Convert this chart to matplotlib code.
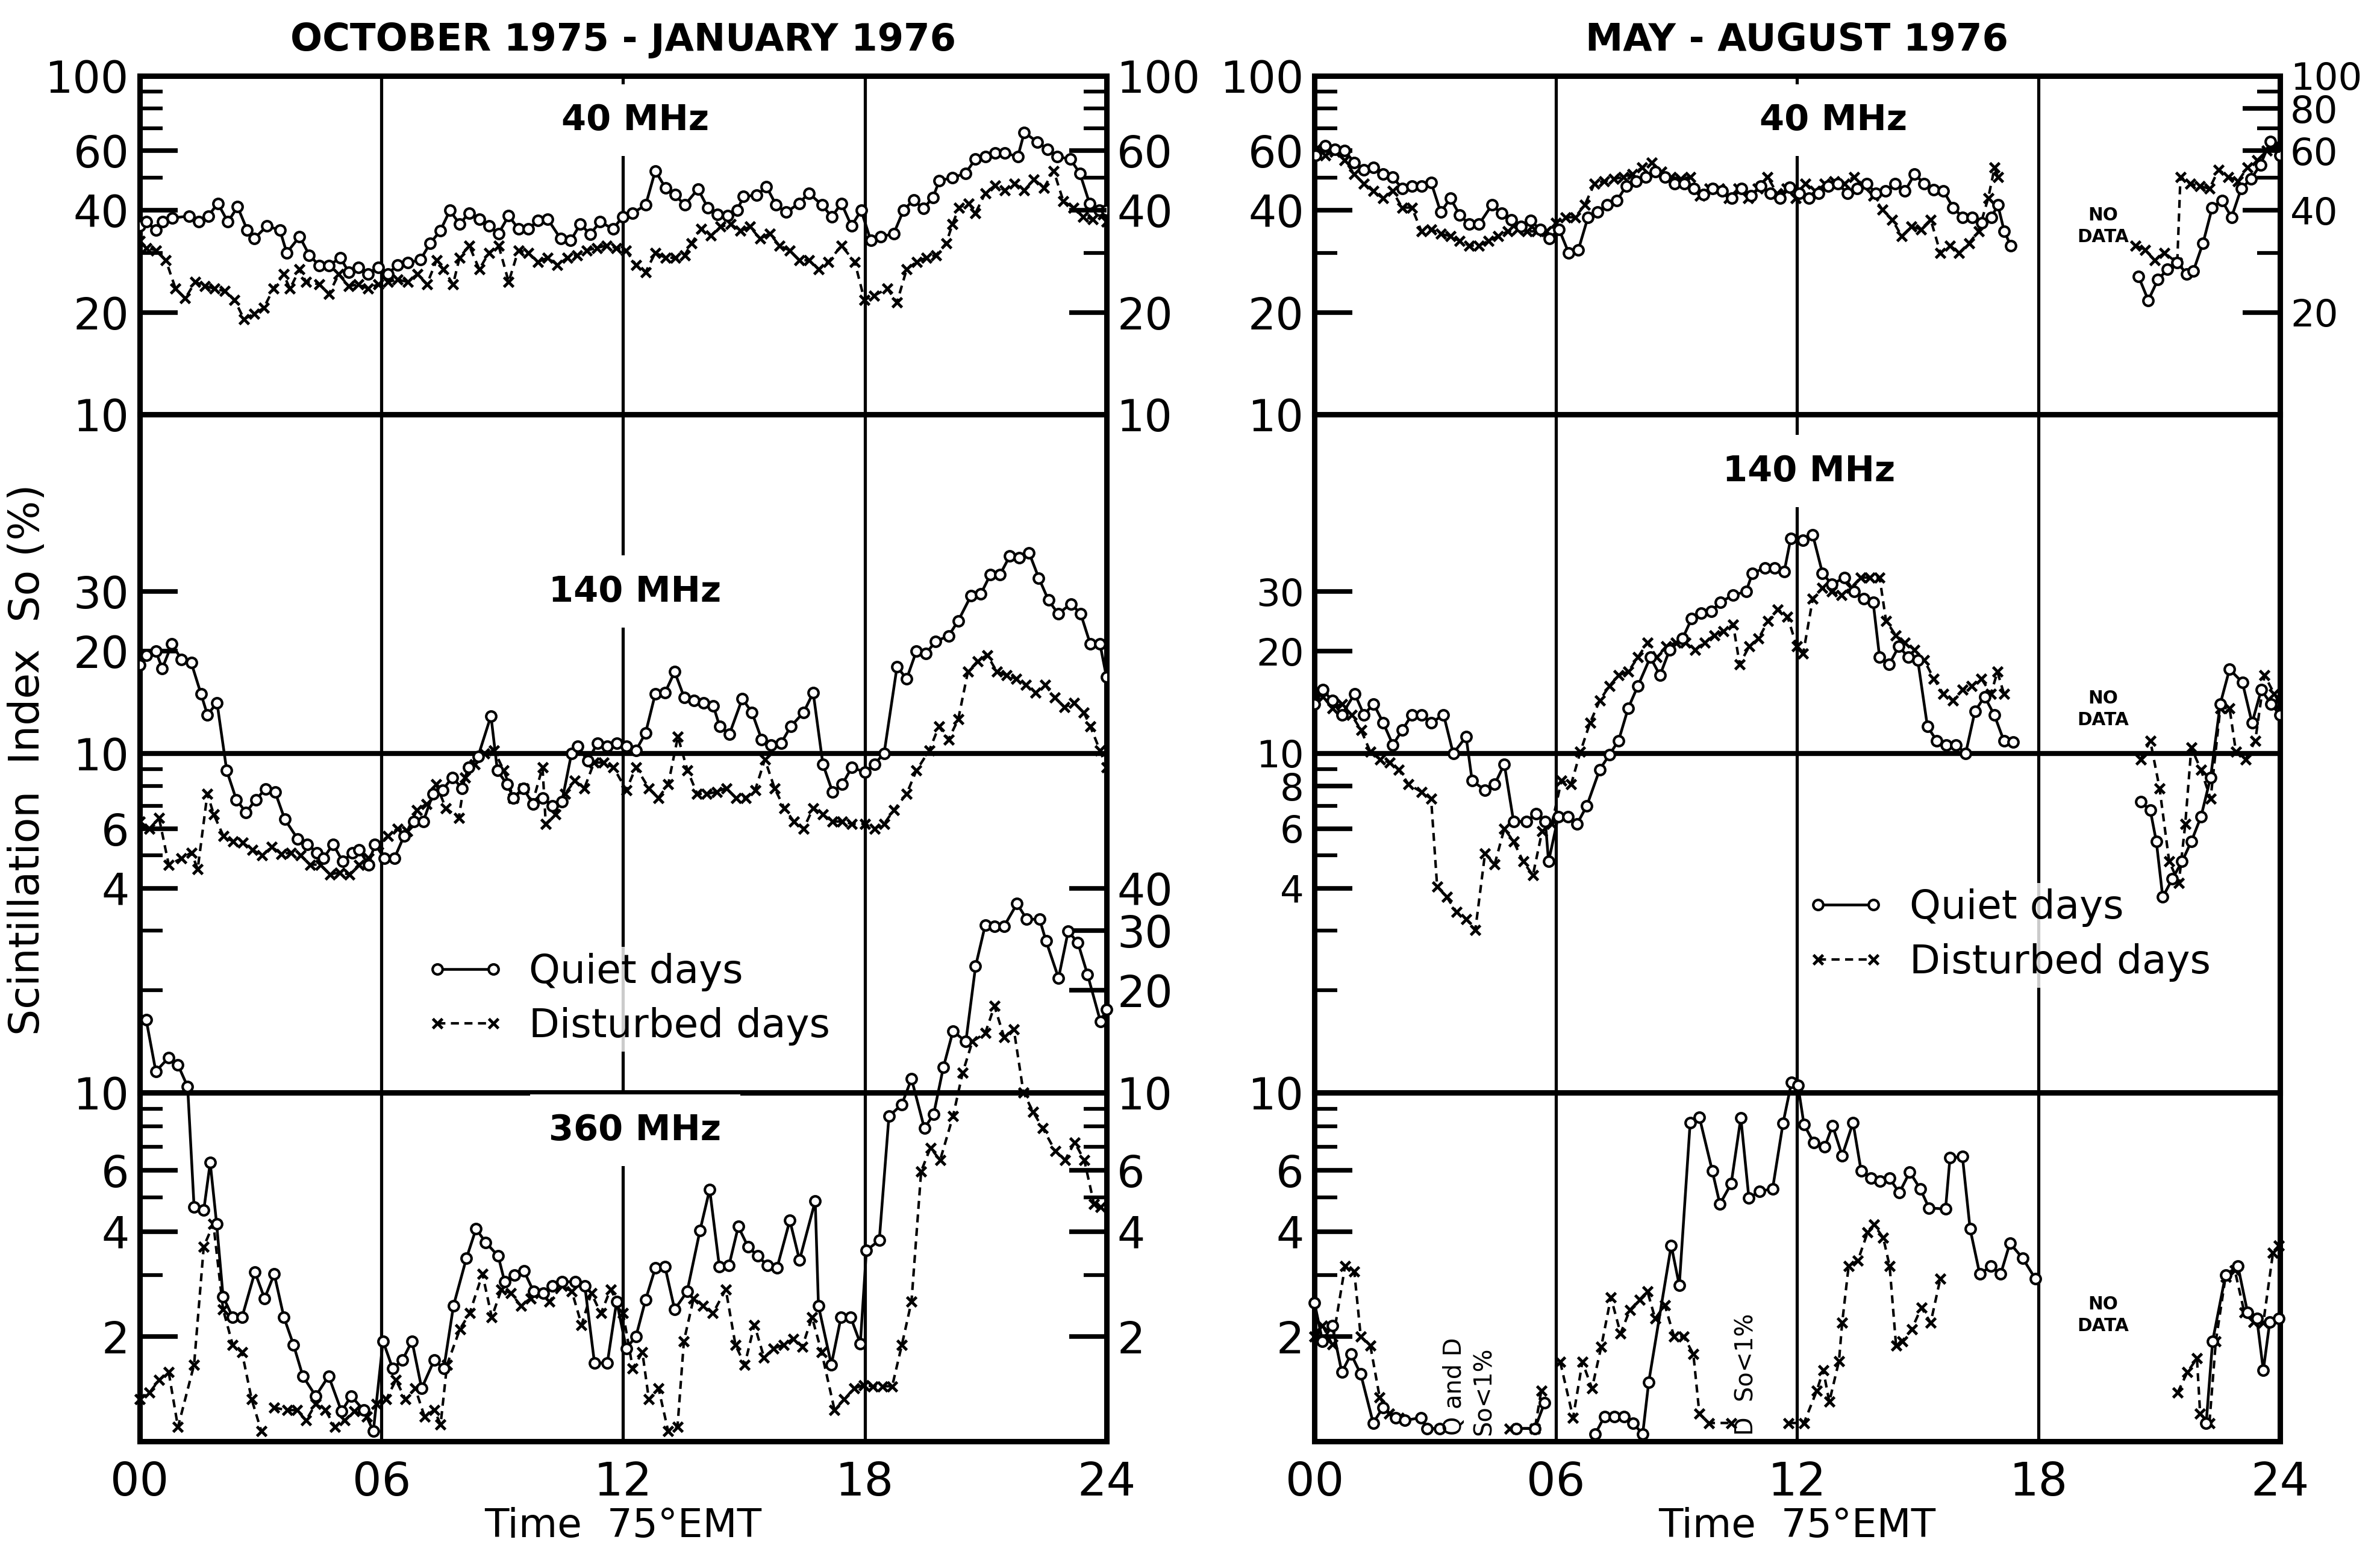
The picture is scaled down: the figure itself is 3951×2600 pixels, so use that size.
import numpy as np
import matplotlib
matplotlib.use("Agg")
import matplotlib.pyplot as plt
from matplotlib.lines import Line2D
from matplotlib.ticker import FixedLocator, NullFormatter, NullLocator

plt.rcParams['font.family'] = ['DejaVu Sans']

nan = np.nan
GAP = (nan, nan)

# ---- October 1975 - January 1976 : (hour, So %) ----
oct_40_quiet = [
    (0.0, 36), (0.16, 37), (0.41, 35), (0.57, 37), (0.81, 38), (1.22, 38.5), (1.46, 37), (1.70, 38.5),
    (1.94, 42), (2.19, 37), (2.43, 41), (2.67, 35), (2.84, 33), (3.16, 36), (3.48, 35), (3.65, 30),
    (3.97, 33.5), (4.21, 29.5), (4.46, 27.5), (4.70, 27.5), (4.98, 29), (5.19, 26.3), (5.43, 27.2),
    (5.67, 26), (5.92, 27.2), (6.16, 26), (6.40, 27.6), (6.65, 28), (6.97, 28.6), (7.21, 32),
    (7.46, 34.8), (7.70, 40), (7.94, 36.5), (8.18, 39.3), (8.43, 37.7), (8.67, 36), (8.91, 34.2),
    (9.16, 38.6), (9.40, 35.3), (9.64, 35.3), (9.89, 37.3), (10.13, 37.7), (10.45, 33), (10.70, 32.6),
    (10.94, 36.5), (11.18, 34), (11.43, 37), (11.75, 35.3), (11.99, 38.3), (12.24, 39.3), (12.56, 41.5),
    (12.80, 52.4), (13.05, 46.7), (13.29, 44.5), (13.53, 41.5), (13.86, 46.3), (14.10, 40.8),
    (14.34, 39), (14.59, 38.6), (14.83, 40), (14.99, 44), (15.32, 44.4), (15.56, 47), (15.80, 41.5),
    (16.05, 39.5), (16.37, 42), (16.61, 45), (16.94, 41.5), (17.18, 38.3), (17.42, 42), (17.67, 36),
    (17.91, 40), (18.15, 32.6), (18.40, 33.4), (18.72, 34.2), (18.96, 40), (19.21, 43), (19.45, 40.5),
    (19.69, 43.6), (19.85, 49), (20.18, 50), (20.50, 51.5), (20.75, 56.8), (20.99, 57.7), (21.23, 59.2),
    (21.47, 59.2), (21.80, 57.7), (21.96, 68), (22.29, 63.7), (22.53, 60.7), (22.77, 57.7),
    (23.10, 56.8), (23.34, 51.5), (23.58, 42), (23.82, 40), (24.0, 40),
]
oct_40_dist = [
    (0.0, 32.5), (0.16, 31), (0.41, 30.5), (0.65, 28.5), (0.89, 23.5), (1.13, 22), (1.38, 24.6),
    (1.62, 23.9), (1.86, 23.5), (2.11, 23.1), (2.35, 21.8), (2.59, 19.1), (2.84, 19.8), (3.08, 20.6),
    (3.32, 23.5), (3.57, 25.9), (3.73, 23.5), (3.97, 26.8), (4.13, 24.6), (4.46, 24.2), (4.70, 22.7),
    (4.94, 25.9), (5.19, 23.9), (5.43, 24.2), (5.67, 23.5), (5.92, 24.2), (6.16, 24.6), (6.40, 25),
    (6.65, 24.6), (6.89, 25.9), (7.13, 24.2), (7.37, 28.5), (7.54, 26.8), (7.78, 24.2), (7.94, 29),
    (8.18, 31.5), (8.43, 26.8), (8.67, 30), (8.91, 31.5), (9.16, 24.6), (9.40, 30.5), (9.64, 30),
    (9.89, 28.2), (10.13, 29), (10.37, 27.6), (10.62, 29), (10.86, 29.5), (11.10, 30.5), (11.35, 31),
    (11.59, 31.5), (11.83, 31), (12.07, 30.5), (12.32, 27.6), (12.56, 26.3), (12.80, 30), (13.05, 29),
    (13.29, 29), (13.53, 29.5), (13.70, 32), (13.94, 35.3), (14.18, 33.7), (14.42, 35.8), (14.67, 36.5),
    (14.91, 34.8), (15.15, 35.8), (15.40, 33), (15.64, 34.2), (15.88, 31.5), (16.13, 30.5),
    (16.37, 28.5), (16.61, 28.5), (16.86, 26.8), (17.10, 28.2), (17.42, 31.5), (17.75, 28.2),
    (17.99, 21.8), (18.23, 22.4), (18.56, 23.5), (18.80, 21.4), (19.04, 26.8), (19.29, 28.2),
    (19.53, 29), (19.77, 29.5), (20.02, 32), (20.18, 36.5), (20.34, 40.8), (20.58, 42), (20.75, 39.3),
    (20.99, 45), (21.23, 47.4), (21.47, 45.9), (21.72, 48), (21.96, 45.9), (22.20, 49.4), (22.45, 46.7),
    (22.69, 52.4), (22.93, 42.6), (23.18, 40.8), (23.42, 38.3), (23.66, 37.7), (23.91, 39), (24.0, 37),
]
oct_140_quiet = [
    (0.0, 18.2), (0.16, 19.5), (0.40, 20), (0.56, 17.8), (0.80, 21), (1.04, 18.9), (1.28, 18.5),
    (1.52, 15), (1.68, 13), (1.92, 14.1), (2.16, 8.9), (2.40, 7.3), (2.64, 6.7), (2.88, 7.3),
    (3.12, 7.85), (3.36, 7.7), (3.60, 6.4), (3.92, 5.6), (4.16, 5.4), (4.40, 5.1), (4.56, 4.9),
    (4.80, 5.4), (5.04, 4.8), (5.28, 5.1), (5.44, 5.2), (5.68, 4.7), (5.84, 5.4), (6.08, 4.9),
    (6.32, 4.9), (6.56, 5.7), (6.80, 6.3), (7.04, 6.3), (7.28, 7.6), (7.52, 7.8), (7.76, 8.5),
    (8.00, 7.9), (8.16, 9.1), (8.40, 9.8), (8.72, 12.9), (8.88, 8.9), (9.12, 8.1), (9.28, 7.4),
    (9.52, 7.9), (9.76, 7.1), (10.00, 7.4), (10.24, 7.0), (10.48, 7.2), (10.72, 10), (10.88, 10.5),
    (11.12, 9.5), (11.36, 10.7), (11.60, 10.5), (11.84, 10.7), (12.08, 10.5), (12.32, 10.2),
    (12.56, 11.5), (12.80, 15), (13.04, 15.1), (13.28, 17.4), (13.52, 14.6), (13.76, 14.3),
    (14.00, 14.1), (14.24, 13.8), (14.40, 12), (14.64, 11.4), (14.96, 14.5), (15.20, 13.2),
    (15.44, 11), (15.68, 10.6), (15.92, 10.7), (16.16, 12), (16.48, 13.2), (16.72, 15.1),
    (16.96, 9.3), (17.20, 7.7), (17.44, 8.1), (17.68, 9.1), (18.00, 8.8), (18.24, 9.3), (18.48, 10),
    (18.80, 18), (19.04, 16.6), (19.28, 20), (19.52, 19.7), (19.76, 21.4), (20.08, 22.2),
    (20.32, 24.6), (20.64, 29.2), (20.88, 29.5), (21.12, 33.7), (21.36, 33.7), (21.60, 38.2),
    (21.84, 37.8), (22.08, 39), (22.32, 32.9), (22.56, 28.3), (22.80, 25.8), (23.12, 27.6),
    (23.36, 25.8), (23.60, 21), (23.84, 21), (24.0, 16.8),
]
oct_140_dist = [
    (0.0, 6.3), (0.24, 6.0), (0.48, 6.45), (0.72, 4.7), (1.04, 4.9), (1.28, 5.1), (1.44, 4.56),
    (1.68, 7.6), (1.84, 6.6), (2.08, 5.7), (2.32, 5.5), (2.56, 5.45), (2.80, 5.2), (3.04, 5.0),
    (3.28, 5.3), (3.52, 5.05), (3.76, 5.1), (4.00, 5.0), (4.24, 4.7), (4.48, 4.7), (4.72, 4.4),
    (4.96, 4.45), (5.20, 4.4), (5.44, 4.7), (5.68, 4.9), (5.92, 5.4), (6.16, 5.7), (6.40, 6.0),
    (6.64, 5.9), (6.88, 6.8), (7.12, 7.1), (7.36, 8.1), (7.60, 6.9), (7.92, 6.45), (8.08, 8.5),
    (8.32, 9.3), (8.56, 10), (8.80, 10.2), (9.04, 8.9), (9.28, 7.4), (9.52, 7.9), (9.76, 7.2),
    (10.00, 9.1), (10.08, 6.2), (10.32, 6.6), (10.56, 7.6), (10.80, 8.3), (11.04, 7.9), (11.28, 9.4),
    (11.52, 9.4), (11.76, 9.1), (12.08, 7.8), (12.32, 9.1), (12.64, 7.9), (12.88, 7.4), (13.12, 8.1),
    (13.36, 11.2), (13.60, 8.9), (13.84, 7.6), (14.08, 7.6), (14.32, 7.7), (14.56, 7.9), (14.80, 7.4),
    (15.04, 7.4), (15.28, 7.8), (15.52, 9.6), (15.76, 7.9), (16.00, 6.9), (16.24, 6.3), (16.48, 6.0),
    (16.72, 6.9), (16.96, 6.6), (17.20, 6.3), (17.44, 6.3), (17.68, 6.2), (18.00, 6.2), (18.24, 6.0),
    (18.48, 6.2), (18.72, 6.8), (19.04, 7.6), (19.28, 8.9), (19.60, 10.2), (19.84, 12), (20.08, 11),
    (20.32, 12.6), (20.56, 17.4), (20.80, 18.7), (21.04, 19.5), (21.28, 17.4), (21.52, 17),
    (21.76, 16.6), (22.00, 15.9), (22.24, 15.1), (22.48, 15.9), (22.72, 14.6), (22.96, 13.7),
    (23.20, 14.1), (23.44, 13.2), (23.60, 12), (23.84, 10.2), (24.0, 9.1),
]
oct_360_quiet = [
    (0.16, 16.2), (0.40, 11.5), (0.72, 12.6), (0.95, 12.0), (1.19, 10.4), (1.35, 4.7), (1.59, 4.6),
    (1.75, 6.3), (1.91, 4.2), (2.07, 2.6), (2.31, 2.27), (2.54, 2.27), (2.86, 3.06), (3.10, 2.57),
    (3.34, 3.02), (3.58, 2.27), (3.82, 1.89), (4.05, 1.54), (4.37, 1.35), (4.69, 1.54), (5.01, 1.22),
    (5.25, 1.35), (5.56, 1.23), (5.80, 1.07), (6.04, 1.94), (6.28, 1.62), (6.52, 1.71), (6.76, 1.94),
    (7.00, 1.42), (7.31, 1.71), (7.55, 1.62), (7.79, 2.45), (8.11, 3.35), (8.35, 4.07), (8.59, 3.72),
    (8.90, 3.4), (9.06, 2.87), (9.30, 3.0), (9.54, 3.08), (9.78, 2.69), (10.02, 2.66), (10.25, 2.79),
    (10.49, 2.87), (10.81, 2.87), (11.05, 2.79), (11.29, 1.68), (11.61, 1.68), (11.84, 2.52),
    (12.08, 1.85), (12.32, 2.0), (12.56, 2.55), (12.80, 3.14), (13.04, 3.17), (13.28, 2.39),
    (13.59, 2.69), (13.91, 4.03), (14.15, 5.28), (14.39, 3.17), (14.63, 3.2), (14.86, 4.13),
    (15.10, 3.62), (15.34, 3.4), (15.58, 3.2), (15.82, 3.14), (16.14, 4.3), (16.38, 3.31),
    (16.77, 4.89), (16.85, 2.45), (17.17, 1.66), (17.41, 2.27), (17.65, 2.27), (17.89, 1.91),
    (18.04, 3.53), (18.36, 3.77), (18.60, 8.55), (18.92, 9.25), (19.16, 10.95), (19.48, 7.9),
    (19.71, 8.67), (19.95, 11.8), (20.19, 15), (20.51, 14), (20.75, 23), (20.99, 30.2), (21.22, 30),
    (21.46, 30), (21.78, 34.8), (22.02, 31.4), (22.34, 31.4), (22.50, 27.2), (22.81, 21.3),
    (23.05, 29), (23.29, 26.9), (23.53, 21.8), (23.85, 16), (24.0, 17.3),
]
oct_360_dist = [
    (0.0, 1.32), (0.24, 1.38), (0.48, 1.5), (0.72, 1.58), (0.95, 1.1), (1.35, 1.66), (1.59, 3.62),
    (1.83, 4.2), (2.07, 2.39), (2.31, 1.89), (2.54, 1.8), (2.78, 1.32), (3.02, 1.07), GAP,
    (3.34, 1.25), (3.66, 1.23), (3.90, 1.23), (4.13, 1.15), (4.37, 1.28), (4.61, 1.23), (4.85, 1.1),
    (5.09, 1.15), (5.33, 1.22), (5.64, 1.18), (5.88, 1.28), (6.12, 1.32), (6.36, 1.5), (6.60, 1.32),
    (6.84, 1.42), (7.07, 1.18), (7.31, 1.23), (7.47, 1.12), (7.63, 1.66), (7.95, 2.1), (8.19, 2.33),
    (8.51, 3.02), (8.74, 2.27), (8.98, 2.73), (9.22, 2.66), (9.46, 2.45), (9.70, 2.57), (9.94, 2.66),
    (10.17, 2.52), (10.49, 2.79), (10.73, 2.69), (10.97, 2.16), (11.21, 2.66), (11.45, 2.33),
    (11.69, 2.73), (12.00, 2.33), (12.24, 1.62), (12.48, 1.8), (12.64, 1.32), (12.88, 1.42),
    (13.12, 1.07), (13.35, 1.1), (13.51, 1.94), (13.75, 2.57), (13.99, 2.45), (14.23, 2.33),
    (14.55, 2.73), (14.79, 1.89), (15.02, 1.66), (15.26, 2.16), (15.50, 1.74), (15.74, 1.85),
    (15.98, 1.89), (16.22, 1.97), (16.45, 1.87), (16.69, 2.27), (16.93, 1.8), (17.25, 1.23),
    (17.49, 1.32), (17.73, 1.42), (17.97, 1.45), (18.20, 1.44), (18.44, 1.44), (18.68, 1.44),
    (18.92, 1.89), (19.16, 2.52), (19.40, 5.95), (19.63, 6.95), (19.87, 6.4), (20.19, 8.55),
    (20.43, 11.4), (20.67, 14), (20.99, 14.8), (21.22, 17.7), (21.46, 14.4), (21.70, 15.2),
    (21.94, 10), (22.18, 8.8), (22.42, 7.9), (22.73, 6.8), (22.97, 6.4), (23.21, 7.2), (23.45, 6.4),
    (23.69, 4.8), (23.85, 4.7),
]

# ---- May - August 1976 : (hour, So %) ----
may_40_quiet = [
    (0.03, 58.2), (0.27, 62), (0.51, 60.6), (0.75, 60), (0.99, 55.5), (1.23, 52.8), (1.46, 53.6),
    (1.70, 51.2), (1.94, 50.3), (2.18, 46.4), (2.42, 47.2), (2.66, 47.2), (2.90, 48.4), (3.14, 39.5),
    (3.38, 43.5), (3.61, 38.8), (3.85, 36.4), (4.09, 36.4), (4.41, 41.5), (4.65, 39.2), (4.89, 37.6),
    (5.13, 35.8), (5.37, 37.3), (5.61, 35.2), (5.84, 33), (6.08, 35.2), (6.32, 30), (6.56, 30.6),
    (6.80, 38.2), (7.04, 39.5), (7.28, 41.5), (7.52, 42.8), (7.75, 47.2), (7.99, 48.8), (8.23, 50.3),
    (8.47, 52), (8.71, 50.3), (8.95, 48), (9.19, 48), (9.43, 46.4), (9.67, 44.6), (9.90, 46.4),
    (10.14, 45.6), (10.38, 43.5), (10.62, 46.4), (10.86, 44.2), (11.10, 47.2), (11.34, 45),
    (11.58, 43.5), (11.82, 46.8), (12.05, 45), (12.29, 43.5), (12.53, 45), (12.77, 47.2), (13.01, 48),
    (13.25, 45), (13.49, 46.4), (13.73, 48), (13.96, 45), (14.20, 45.6), (14.44, 48), (14.68, 45.6),
    (14.92, 51.2), (15.16, 48), (15.40, 46), (15.64, 45.6), (15.88, 40.8), (16.11, 38.2),
    (16.35, 38.2), (16.59, 36.8), (16.83, 38.2), (16.99, 41.5), (17.15, 34.7), (17.31, 31.5), GAP,
    (20.49, 25.5), (20.73, 21.7), (20.97, 25), (21.21, 26.8), (21.45, 28), (21.69, 26), (21.85, 26.5),
    (22.09, 32), (22.32, 40.8), (22.56, 42.8), (22.80, 38.2), (23.04, 46.4), (23.28, 49.5),
    (23.52, 54.6), (23.76, 64), (24.0, 58.2),
]
may_40_dist = [
    (0.03, 60.6), (0.27, 58.2), (0.51, 59.7), (0.75, 56.3), (0.99, 51.2), (1.23, 48), (1.46, 45.6),
    (1.70, 43.5), (1.94, 45.6), (2.18, 40.8), (2.42, 40.8), (2.66, 34.7), (2.90, 35.2), (3.14, 34.1),
    (3.38, 33.6), (3.61, 32.5), (3.85, 31.5), (4.09, 31.5), (4.33, 32.5), (4.57, 33.6), (4.81, 34.7),
    (5.05, 35.2), (5.29, 34.7), (5.53, 34.7), (5.76, 34.7), (6.00, 36.8), (6.24, 38.2), (6.48, 38.2),
    (6.72, 41.5), (6.96, 48), (7.20, 48.8), (7.44, 49.5), (7.68, 50.3), (7.91, 51.2), (8.15, 53.6),
    (8.39, 55.5), (8.63, 52), (8.87, 50.3), (9.11, 49.5), (9.35, 50.3), (9.59, 44.2), (9.82, 46.4),
    (10.06, 46.4), (10.30, 43.5), (10.54, 46.4), (10.78, 43.5), (11.02, 46.4), (11.26, 50.3),
    (11.50, 45), (11.74, 46.4), (11.97, 43.5), (12.21, 48), (12.45, 45.6), (12.69, 48), (12.93, 48.8),
    (13.17, 48), (13.41, 50.3), (13.65, 47.2), (13.89, 44.2), (14.12, 40.2), (14.36, 37.6),
    (14.60, 33.6), (14.84, 35.8), (15.08, 35.2), (15.32, 37.6), (15.56, 30), (15.80, 31.5),
    (16.03, 30), (16.27, 32), (16.51, 34.7), (16.75, 43.5), (16.91, 53.6), (16.99, 50.3), GAP,
    (20.41, 31.5), (20.65, 30.6), (20.89, 28.5), (21.13, 30), (21.45, 28), (21.53, 50.3),
    (21.77, 48), (22.01, 47.2), (22.25, 46.4), (22.48, 52.8), (22.72, 50.3), (22.96, 48.8),
    (23.20, 53.6), (23.44, 56.3), (23.68, 60), (23.92, 63), (24.0, 60),
]
may_140_quiet = [
    (0.0, 14), (0.21, 15.4), (0.44, 14.3), (0.68, 13), (1.00, 15), (1.23, 13), (1.47, 14),
    (1.71, 12.3), (1.95, 10.6), (2.18, 11.7), (2.42, 13), (2.66, 13), (2.90, 12.3), (3.21, 13),
    (3.45, 10), (3.77, 11.2), (3.92, 8.3), (4.24, 7.8), (4.48, 8.1), (4.72, 9.3), (4.95, 6.3),
    (5.27, 6.3), (5.51, 6.65), (5.74, 6.3), (5.82, 4.8), (6.06, 6.5), (6.30, 6.5), (6.53, 6.2),
    (6.77, 7.0), (7.09, 8.95), (7.33, 9.9), (7.56, 10.9), (7.80, 13.6), (8.04, 15.8), (8.35, 19.2),
    (8.59, 17), (8.83, 20.2), (9.15, 21.8), (9.38, 25), (9.62, 25.9), (9.86, 26.2), (10.09, 27.9),
    (10.41, 29.3), (10.73, 30), (10.89, 34), (11.20, 35.2), (11.44, 35.2), (11.68, 34.4),
    (11.84, 43), (12.15, 42.5), (12.39, 44), (12.63, 34), (12.86, 31.5), (13.18, 33), (13.42, 30),
    (13.66, 28.6), (13.89, 27.9), (14.05, 19.2), (14.29, 18.3), (14.53, 20.7), (14.76, 19.2),
    (15.00, 18.8), (15.24, 12), (15.47, 10.9), (15.71, 10.6), (15.95, 10.6), (16.19, 10),
    (16.42, 13.3), (16.66, 14.7), (16.90, 13), (17.14, 10.9), (17.37, 10.8), GAP,
    (20.54, 7.2), (20.78, 6.8), (20.93, 5.5), (21.09, 3.77), (21.33, 4.27), (21.57, 4.8),
    (21.80, 5.5), (22.04, 6.5), (22.28, 8.5), (22.52, 14), (22.75, 17.7), (23.07, 16.2),
    (23.31, 12.3), (23.54, 15.4), (23.78, 14), (24.0, 13),
]
may_140_dist = [
    (0.0, 15), (0.21, 14.7), (0.44, 13.6), (0.68, 14), (0.92, 13), (1.16, 11.7), (1.39, 10.1),
    (1.63, 9.6), (1.87, 9.4), (2.10, 8.95), (2.34, 8.1), (2.66, 7.7), (2.90, 7.35), (3.05, 4.05),
    (3.29, 3.77), (3.53, 3.41), (3.77, 3.25), (4.00, 3.02), (4.24, 5.07), (4.48, 4.71), (4.72, 6.0),
    (4.95, 5.5), (5.19, 4.8), (5.43, 4.37), (5.66, 5.9), (5.90, 6.2), (6.14, 8.3), (6.38, 8.1),
    (6.61, 10.1), (6.85, 12.3), (7.09, 14.3), (7.33, 15.8), (7.56, 17), (7.80, 17.4), (8.04, 19.2),
    (8.28, 21.2), (8.51, 19.2), (8.75, 20.7), (8.99, 21.2), (9.22, 21.2), (9.46, 20.2), (9.70, 21.2),
    (9.94, 22.3), (10.17, 22.9), (10.41, 24), (10.57, 18.3), (10.81, 20.7), (11.04, 21.8),
    (11.28, 24.6), (11.52, 26.6), (11.76, 25.3), (11.99, 20.7), (12.15, 19.7), (12.39, 28.6),
    (12.63, 30.8), (12.86, 30), (13.10, 29.3), (13.34, 30.8), (13.58, 33), (13.81, 33), (14.05, 33),
    (14.21, 24.6), (14.45, 22.3), (14.68, 21.2), (14.92, 20.2), (15.16, 18.8), (15.40, 16.6),
    (15.63, 15), (15.87, 14.3), (16.11, 15.4), (16.34, 15.8), (16.58, 16.6), (16.82, 15),
    (16.98, 17.4), (17.14, 15), GAP,
    (20.54, 9.6), (20.78, 10.9), (21.01, 7.9), (21.25, 4.8), (21.49, 4.15), (21.65, 6.2),
    (21.80, 10.4), (22.04, 8.95), (22.28, 7.35), (22.52, 13.6), (22.75, 13.6), (22.91, 10.1),
    (23.15, 9.6), (23.39, 10.9), (23.62, 17), (23.86, 15), (24.0, 14),
]
may_360_quiet = [
    (0.0, 2.5), (0.20, 1.94), (0.44, 2.15), (0.68, 1.58), (0.91, 1.78), (1.15, 1.56), (1.46, 1.13),
    (1.70, 1.25), (2.02, 1.17), (2.25, 1.15), (2.65, 1.17), (2.80, 1.09), (3.12, 1.09), GAP,
    (5.01, 1.09), (5.48, 1.09), (5.72, 1.29), GAP,
    (6.98, 1.05), (7.21, 1.18), (7.45, 1.18), (7.69, 1.18), (7.92, 1.13), (8.16, 1.05), (8.31, 1.48),
    (8.87, 3.65), (9.07, 2.8), (9.34, 8.2), (9.57, 8.5), (9.89, 5.97), (10.08, 4.79), (10.36, 5.48),
    (10.60, 8.47), (10.80, 4.99), (11.07, 5.21), (11.39, 5.3), (11.65, 8.18), (11.86, 10.7),
    (12.02, 10.5), (12.17, 8.1), (12.41, 7.2), (12.69, 7.0), (12.88, 8.04), (13.12, 6.6),
    (13.39, 8.2), (13.59, 5.97), (13.83, 5.68), (14.06, 5.57), (14.30, 5.68), (14.54, 5.16),
    (14.80, 5.92), (15.06, 5.3), (15.28, 4.67), (15.69, 4.64), (15.80, 6.5), (16.11, 6.55),
    (16.30, 4.07), (16.54, 3.02), (16.82, 3.18), (17.06, 3.02), (17.29, 3.7), (17.61, 3.35),
    (17.92, 2.93), GAP,
    (22.17, 1.13), (22.33, 1.94), (22.65, 3.0), (22.96, 3.18), (23.20, 2.34), (23.43, 2.25),
    (23.59, 1.6), (23.75, 2.2), (23.98, 2.25),
]
may_360_dist = [
    (0.0, 2.0), (0.20, 2.15), (0.44, 1.9), (0.76, 3.18), (0.99, 3.07), (1.15, 2.0), (1.39, 1.88),
    (1.62, 1.34), (1.86, 1.2), (2.09, 1.17), GAP,
    (4.85, 1.09), (5.48, 1.09), (5.64, 1.4), GAP,
    (6.11, 1.69), (6.43, 1.17), (6.66, 1.69), (6.90, 1.42), (7.13, 1.87), (7.37, 2.59), (7.61, 2.04),
    (7.84, 2.38), (8.08, 2.55), (8.28, 2.69), (8.47, 2.25), (8.71, 2.46), (8.94, 2.0), (9.18, 2.0),
    (9.42, 1.78), (9.57, 1.2), (9.81, 1.13), (10.36, 1.13), GAP,
    (11.78, 1.13), (12.17, 1.13), (12.49, 1.4), (12.65, 1.6), (12.80, 1.3), (13.04, 1.7),
    (13.12, 2.19), (13.28, 3.18), (13.51, 3.3), (13.75, 3.97), (13.91, 4.18), (14.14, 3.84),
    (14.30, 3.18), (14.46, 1.88), (14.61, 1.94), (14.85, 2.1), (15.09, 2.42), (15.32, 2.19),
    (15.56, 2.93), GAP,
    (21.46, 1.38), (21.70, 1.58), (21.94, 1.73), (22.02, 1.2), (22.25, 1.13), (22.41, 1.94),
    (22.65, 2.96), (22.88, 3.1), (23.12, 2.34), (23.35, 2.2), (23.59, 2.19), (23.83, 3.47),
    (23.98, 3.65),
]

hour_ticks = [0, 6, 12, 18, 24]
hour_labels = ['00', '06', '12', '18', '24']

fig = plt.figure(figsize=(15.804, 10.4), dpi=250)

Y_BOT, Y_360, Y_140, Y_TOP = 0.0795, 0.3023, 0.7355, 0.9516
TICK_FS = 21


def style_ticks(ax, side, major, labels, minor, size=TICK_FS):
    ax.yaxis.set_major_locator(FixedLocator(major))
    ax.yaxis.set_minor_locator(FixedLocator(minor))
    ax.set_yticklabels(labels)
    ax.yaxis.set_minor_formatter(NullFormatter())
    on_left = side == 'left'
    ax.tick_params(axis='y', which='both', direction='in', left=on_left, right=not on_left,
                   labelleft=on_left, labelright=not on_left)
    ax.tick_params(axis='y', which='major', length=18, width=2.2, labelsize=size, pad=5)
    ax.tick_params(axis='y', which='minor', length=11, width=1.8)


def make_band(x0, w, y0, y1, lo, hi, left, right=None):
    ax = fig.add_axes([x0, y0, w, y1 - y0])
    ax.set_yscale('log')
    ax.set_xlim(0, 24)
    ax.set_ylim(lo, hi)
    ax.patch.set_visible(False)
    for s in ax.spines.values():
        s.set_linewidth(2.6)
    for h in hour_ticks[1:-1]:
        ax.axvline(h, color='black', lw=1.5, zorder=1)
    ax.xaxis.set_major_locator(NullLocator())
    ax.xaxis.set_minor_locator(NullLocator())
    style_ticks(ax, 'left', *left)
    if right is not None:
        axr = ax.twinx()
        axr.set_yscale('log')
        axr.set_ylim(lo, hi)
        for s in axr.spines.values():
            s.set_visible(False)
        style_ticks(axr, 'right', *right)
    else:
        ax.tick_params(axis='y', which='both', right=False)
    return ax


def draw(ax, data, quiet, clip=True):
    d = np.array(data, dtype=float)
    if quiet:
        ax.plot(d[:, 0], d[:, 1], color='black', lw=1.3, marker='o', ms=4.8, mfc='white',
                mec='black', mew=1.2, clip_on=clip, zorder=4)
    else:
        ax.plot(d[:, 0], d[:, 1], color='black', lw=1.2, ls=(0, (3.2, 2.2)), marker='x', ms=4.4,
                mew=1.4, clip_on=clip, zorder=3)


def band_label(ax, x, y, text):
    ax.text(x, y, text, ha='center', va='center', fontsize=17, fontweight='bold', zorder=6,
            bbox=dict(facecolor='white', edgecolor='none', pad=9))


ticks_40 = ([10, 20, 40, 60, 100], ['10', '20', '40', '60', '100'], [30, 50, 70, 80, 90])
ticks_360 = ([2, 4, 6, 10], ['2', '4', '6', '10'], [3, 5, 7, 8, 9])

# ---------------- left panel ----------------
LX, LW = 0.0587, 0.4062
l40 = make_band(LX, LW, Y_140, Y_TOP, 10, 100, ticks_40, ticks_40)
l140 = make_band(LX, LW, Y_360, Y_140, 1, 100,
                 ([4, 6, 10, 20, 30], ['4', '6', '10', '20', '30'], [2, 3, 5, 7, 8, 9]),
                 ([2, 3, 4], ['20', '30', '40'], []))
l140.axhline(10, color='black', lw=2.4, zorder=2)
l360 = make_band(LX, LW, Y_BOT, Y_360, 1, 10, ticks_360, ticks_360)

draw(l40, oct_40_dist, False)
draw(l40, oct_40_quiet, True)
draw(l140, oct_140_dist, False)
draw(l140, oct_140_quiet, True)
draw(l360, oct_360_dist, False, clip=False)
draw(l360, oct_360_quiet, True, clip=False)

band_label(l40, 12.3, 74, '40 MHz')
band_label(l140, 12.3, 30, '140 MHz')
band_label(l360, 12.3, 7.8, '360 MHz')

l360.set_xticks(hour_ticks, hour_labels)
l360.tick_params(axis='x', length=0, labelsize=TICK_FS + 1, pad=9)
l360.set_xlabel('Time  75°EMT', fontsize=19, labelpad=1)
l40.set_title('OCTOBER 1975 - JANUARY 1976', fontsize=18, fontweight='bold', pad=12)

# ---------------- right panel ----------------
RX, RW = 0.5523, 0.4056
r40 = make_band(RX, RW, Y_140, Y_TOP, 10, 100, ticks_40,
                ([20, 40, 60, 80, 100], ['20', '40', '60', '80', '100'], [30, 50, 70, 90], 18))
r140 = make_band(RX, RW, Y_360, Y_140, 1, 100,
                 ([4, 6, 8, 10, 20, 30], ['4', '6', '8', '10', '20', '30'], [2, 3, 5, 7, 9], 18))
r140.axhline(10, color='black', lw=2.4, zorder=2)
r360 = make_band(RX, RW, Y_BOT, Y_360, 1, 10, ticks_360)

draw(r40, may_40_dist, False)
draw(r40, may_40_quiet, True)
draw(r140, may_140_dist, False)
draw(r140, may_140_quiet, True)
draw(r360, may_360_dist, False, clip=False)
draw(r360, may_360_quiet, True, clip=False)

band_label(r40, 12.9, 74, '40 MHz')
band_label(r140, 12.3, 68, '140 MHz')

for ax, y in ((r40, 36), (r140, 13.5), (r360, 2.3)):
    ax.text(19.6, y, 'NO\nDATA', ha='center', va='center', fontsize=8.5, fontweight='bold',
            linespacing=1.3, zorder=6)
r360.text(3.85, 1.04, 'Q and D\nSo<1%', rotation=90, ha='center', va='bottom',
          multialignment='left', fontsize=11.5, linespacing=1.3, zorder=6)
r360.text(10.75, 1.04, 'D  So<1%', rotation=90, ha='center', va='bottom', fontsize=11.5,
          zorder=6)

r360.set_xticks(hour_ticks, hour_labels)
r360.tick_params(axis='x', length=0, labelsize=TICK_FS + 1, pad=9)
r360.set_xlabel('Time  75°EMT', fontsize=19, labelpad=1)
r40.set_title('MAY - AUGUST 1976', fontsize=18, fontweight='bold', pad=12)

fig.text(0.0115, 0.515, 'Scintillation  Index  So (%)', rotation=90, ha='center', va='center',
         fontsize=20)

# ---------------- legends (inside the 140 MHz axes, below the data) ----------------
handles = [
    Line2D([], [], color='black', lw=1.3, marker='o', ms=4.8, mfc='white', mec='black', mew=1.2),
    Line2D([], [], color='black', lw=1.2, ls=(0, (3.2, 2.2)), marker='x', ms=4.4, mew=1.4),
]
names = ['Quiet days', 'Disturbed days']
for ax, anchor in ((l140, (0.168, 0.408)), (r140, (0.748, 0.449))):
    leg = ax.legend(handles, names, loc='upper left', bbox_to_anchor=anchor,
                    bbox_transform=fig.transFigure, numpoints=2, handlelength=2.0, fontsize=19,
                    frameon=True, fancybox=False, borderpad=0.15, labelspacing=0.4,
                    handletextpad=0.6)
    leg.get_frame().set_facecolor('white')
    leg.get_frame().set_edgecolor('none')
    leg.set_zorder(2.5)

fig.savefig('out.png', dpi=250)
